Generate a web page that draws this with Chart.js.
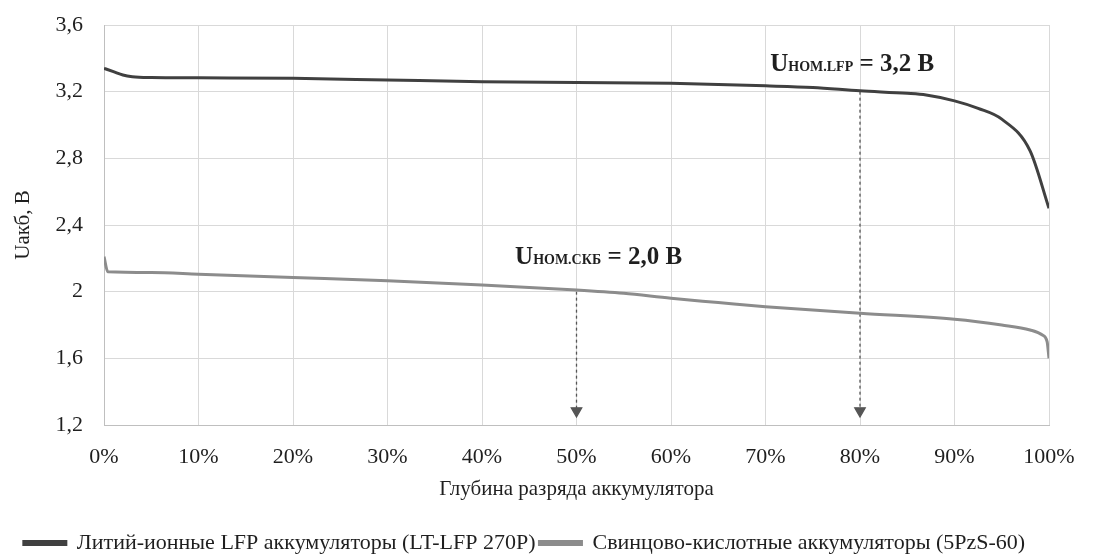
<!DOCTYPE html>
<html>
<head>
<meta charset="utf-8">
<script src="https://cdn.jsdelivr.net/npm/chart.js@4.4.1/dist/chart.umd.min.js"></script>
<style>
  html, body { margin: 0; padding: 0; background: #fff; }
  #wrap { width: 1117px; height: 559px; }
</style>
</head>
<body>
<div id="wrap"><canvas id="chart"></canvas></div>
<script>
// Глубина разряда, % и напряжение, В
const lfpDoD = [0, 1, 2, 3, 5, 10, 20, 30, 40, 50, 60, 70, 75, 80, 85, 87, 90, 92.5, 95, 98, 100];
const lfpVolt = [3.34, 3.32, 3.30, 3.29, 3.285, 3.283, 3.28, 3.27, 3.26, 3.255, 3.25, 3.235, 3.225, 3.205, 3.19, 3.18, 3.145, 3.10, 3.035, 2.845, 2.50];

const leadDoD = [0, 0.4, 5, 10, 20, 30, 40, 50, 55, 60, 65, 70, 80, 90, 95, 98, 99.3, 99.8, 100];
const leadVolt = [2.21, 2.12, 2.115, 2.105, 2.085, 2.065, 2.04, 2.01, 1.99, 1.96, 1.935, 1.91, 1.87, 1.835, 1.80, 1.77, 1.74, 1.70, 1.60];

const seriesNames = [
  "Литий-ионные LFP аккумуляторы (LT-LFP 270P)",
  "Свинцово-кислотные аккумуляторы (5PzS-60)"
];

// номинальные напряжения и точки на графике
const nomDoD = [80, 50];
const nomVolt = [3.2, 2.0];
const nomSub = ["НОМ.LFP", "НОМ.СКБ"];
const nomText = [" = 3,2 В", " = 2,0 В"];

const xTicks = [0, 10, 20, 30, 40, 50, 60, 70, 80, 90, 100];
const yTicks = [1.2, 1.6, 2.0, 2.4, 2.8, 3.2, 3.6];

const toPoints = (xs, ys) => xs.map((x, i) => ({ x, y: ys[i] }));

const serif = "'Liberation Serif', 'DejaVu Serif', serif";
const textColor = "#1f1f1f";

// подписи Uном над стрелками
const labelPlugin = {
  id: "nomLabels",
  afterDatasetsDraw(chart, args, opts) {
    const { ctx, scales } = chart;
    ctx.save();
    ctx.fillStyle = textColor;
    ctx.textBaseline = "alphabetic";
    opts.anchors.forEach((a, i) => {
      let x = scales.x.getPixelForValue(a.x);
      const y = scales.y.getPixelForValue(a.y);
      ctx.font = "bold 25px " + serif;
      ctx.fillText("U", x, y);
      x += ctx.measureText("U").width;
      ctx.font = "bold 14px " + serif;
      ctx.fillText(nomSub[i], x, y);
      x += ctx.measureText(nomSub[i]).width;
      ctx.font = "bold 25px " + serif;
      ctx.fillText(nomText[i], x, y);
    });
    ctx.restore();
  }
};

const arrowSet = (i) => ({
  label: "arrow" + i,
  data: [{ x: nomDoD[i], y: nomVolt[i] }, { x: nomDoD[i], y: 1.285 }],
  borderColor: "#555",
  backgroundColor: "#555",
  borderWidth: 1.3,
  borderDash: [3, 3],
  pointRadius: [0, 6],
  pointStyle: "triangle",
  rotation: 180,
  order: 3
});

new Chart(document.getElementById("chart"), {
  type: "line",
  data: {
    datasets: [
      {
        label: seriesNames[0],
        data: toPoints(lfpDoD, lfpVolt),
        borderColor: "#404040",
        backgroundColor: "#404040",
        borderWidth: 3,
        pointRadius: 0,
        cubicInterpolationMode: "monotone",
        order: 1
      },
      {
        label: seriesNames[1],
        data: toPoints(leadDoD, leadVolt),
        borderColor: "#8c8c8c",
        backgroundColor: "#8c8c8c",
        borderWidth: 3,
        pointRadius: 0,
        cubicInterpolationMode: "monotone",
        order: 2
      },
      arrowSet(0),
      arrowSet(1)
    ]
  },
  options: {
    responsive: true,
    maintainAspectRatio: false,
    animation: false,
    layout: { padding: { top: 25, right: 68, bottom: -5, left: 0 } },
    plugins: {
      tooltip: { enabled: false },
      legend: {
        position: "bottom",
        labels: {
          filter: (item) => !item.text.startsWith("arrow"),
          boxWidth: 42,
          boxHeight: 3,
          padding: 4,
          color: textColor,
          font: { family: serif, size: 22 }
        }
      },
      nomLabels: {
        anchors: [
          { x: 70.5, y: 3.324 },
          { x: 43.5, y: 2.166 }
        ]
      }
    },
    scales: {
      x: {
        type: "linear",
        min: 0,
        max: 100,
        afterBuildTicks: (s) => { s.ticks = xTicks.map(v => ({ value: v })); },
        afterFit: (s) => { s.height = 103; },
        ticks: {
          padding: 19,
          color: textColor,
          font: { family: serif, size: 22 },
          maxRotation: 0,
          callback: (v) => v + "%"
        },
        grid: { color: "#d9d9d9", drawTicks: false },
        border: { color: "#bfbfbf" },
        title: {
          display: true,
          text: "Глубина разряда аккумулятора",
          color: textColor,
          font: { family: serif, size: 21 },
          padding: { top: 0, bottom: 26 }
        }
      },
      y: {
        min: 1.2,
        max: 3.6,
        afterBuildTicks: (s) => { s.ticks = yTicks.map(v => ({ value: v })); },
        afterFit: (s) => {
          s.width = 104;
          s.paddingTop = 0;
          s.paddingBottom = 0;
        },
        ticks: {
          padding: 21,
          color: textColor,
          font: { family: serif, size: 22 },
          callback: (v) => Number.isInteger(v) ? String(v) : v.toFixed(1).replace(".", ",")
        },
        grid: { color: "#d9d9d9", drawTicks: false },
        border: { color: "#bfbfbf" },
        title: {
          display: true,
          text: "Uакб, В",
          color: textColor,
          font: { family: serif, size: 21 },
          padding: { top: 11, bottom: 0 }
        }
      }
    }
  },
  plugins: [labelPlugin]
});
</script>
</body>
</html>
